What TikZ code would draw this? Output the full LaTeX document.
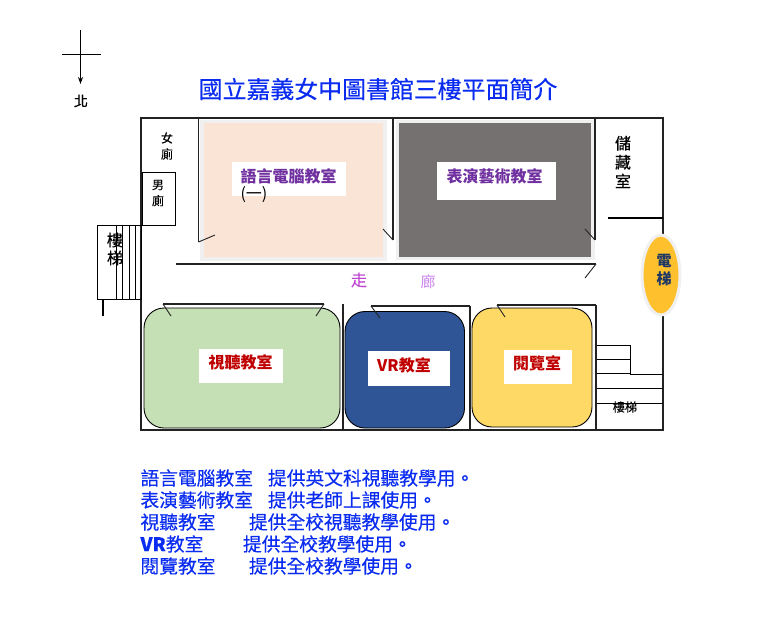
\documentclass[tikz,border=0pt]{standalone}
\usepackage{fontspec}
\usetikzlibrary{arrows.meta}
\setmainfont{Noto Sans CJK TC}
\newfontfamily\heavycjk[FakeBold=0.35]{Noto Sans CJK TC}
\definecolor{titleblue}{HTML}{0A2CF0}
\definecolor{wallink}{HTML}{222222}
\definecolor{pale}{HTML}{F0F0F0}
\definecolor{roompurple}{HTML}{7030A0}
\definecolor{roomred}{HTML}{C00000}
\tikzset{
  wall/.style={draw=wallink,line width=1.9pt},
  thin wall/.style={draw=black,line width=1.2pt},
  door/.style={draw=wallink,line width=.9pt},
  room/.style={draw=black,line width=.9pt,rounded corners=20pt},
  plain/.style={inner sep=0pt,outer sep=0pt,text=black},
  roomlabel/.style={plain,font=\fontsize{16}{16}\selectfont\bfseries},
  note/.style={plain,anchor=west,text=titleblue,font=\heavycjk\fontsize{18.75}{18.75}\selectfont},
}
\begin{document}
\begin{tikzpicture}[x=1pt,y=-1pt]
\useasboundingbox (0,0) rectangle (757,633);
% north mark
\draw[black,line width=.8pt] (62,54) -- (101,54);
\draw[black,line width=.8pt,-{Stealth[length=7pt,width=5pt]}] (80.5,30) -- (80.5,84);
\node[plain,font=\heavycjk\fontsize{14}{14}\selectfont] (north) at (81,101) {北};
% title
\node[plain,text=titleblue,font=\heavycjk\fontsize{23.9}{24}\selectfont] (title) at (378,89) {國立嘉義女中圖書館三樓平面簡介};
% upper rooms
\fill[pale] (200,120) rectangle (387,261);
\fill[fill={rgb,255:red,250;green,228;blue,214}] (204,123) rectangle (383,257);
\fill[pale] (396,120) rectangle (595,260);
\fill[fill={rgb,255:red,118;green,113;blue,113}] (399,123) rectangle (591,257);
% lower rooms
\filldraw[room,fill={rgb,255:red,197;green,224;blue,180}] (144,308) rectangle (340,428);
\filldraw[room,fill={rgb,255:red,47;green,85;blue,151}] (345,311.5) rectangle (464.5,428);
\filldraw[room,fill={rgb,255:red,255;green,217;blue,102}] (472,308) rectangle (592,427);
% outer walls
\draw[wall] (663,237) -- (663,118) -- (141,118) -- (141,430) -- (663,430) -- (663,315);
% inner walls, upper side
\draw[wall] (198.5,118) -- (198.5,242);
\draw[wall] (393,118) -- (393,240);
\draw[wall] (595,118) -- (595,240);
\draw[door] (198.5,242) -- (215,235);
\draw[door] (393,240) -- (383,229);
\draw[door] (595,240) -- (585,229);
\draw[wall] (176,264) -- (596,264);
\draw[door] (596,264) -- (585,278);
\draw[thin wall] (608,218) -- (663,218);
% toilet box
\draw[black,line width=.9pt] (142,172) rectangle (175,225);
% west stairs
\draw[black,line width=.9pt] (97,225) rectangle (141,299);
\foreach \sx in {116,122.5,129,135} \draw[black,line width=.8pt] (\sx,225) -- (\sx,299);
\draw[black,line width=1.7pt] (103,299) -- (103,316);
% lower walls
\draw[wall] (343,304) -- (343,430);
\draw[wall] (470,306) -- (470,430);
\draw[wall] (596,305) -- (596,430);
\draw[wall] (163,304) -- (324,304);
\draw[door] (163,304) -- (171,316);
\draw[door] (324,304) -- (316,316);
\draw[wall] (371,306) -- (470,306);
\draw[door] (371,306) -- (380,318);
\draw[wall] (497,305) -- (596,305);
\draw[door] (497,305) -- (505,317);
% east stairs
\foreach \sy in {345,359,373} \draw[black,line width=.8pt] (597,\sy) -- (630,\sy);
\draw[black,line width=.8pt] (630,345) -- (630,374) -- (663,374);
\foreach \sy in {388,403} \draw[black,line width=.8pt] (597,\sy) -- (663,\sy);
% elevator
\draw[pale,line width=3pt,fill={rgb,255:red,255;green,192;blue,46}] (661,275) ellipse [x radius=19,y radius=40];
\node[plain,text={rgb,255:red,31;green,56;blue,100},font=\fontsize{15}{18}\selectfont\bfseries,align=center] (lift) at (664,270) {電\\梯};
% room labels
\node[fill=white,minimum width=114pt,minimum height=34pt,inner sep=0pt] (box1) at (289,179) {};
\node[roomlabel,text=roompurple] (lab1) at (288.5,176) {語言電腦教室};
\node[plain,anchor=west,font=\fontsize{16}{16}\selectfont] (lab1b) at (240.5,195) {(一)};
\node[fill=white,minimum width=119pt,minimum height=38pt,inner sep=0pt] (box2) at (496.5,181) {};
\node[roomlabel,text=roompurple] (lab2) at (494.5,176) {表演藝術教室};
\node[fill=white,minimum width=84pt,minimum height=34pt,inner sep=0pt] (box3) at (241,366) {};
\node[roomlabel,text=roomred] (lab3) at (240.5,362.5) {視聽教室};
\node[fill=white,minimum width=82pt,minimum height=35pt,inner sep=0pt] (box4) at (409,368.5) {};
\node[roomlabel,text=roomred] (lab4) at (404,365) {VR教室};
\node[fill=white,minimum width=68pt,minimum height=34pt,inner sep=0pt] (box5) at (538,367) {};
\node[roomlabel,text=roomred] (lab5) at (537,363) {閱覽室};
% small labels
\node[plain,font=\heavycjk\fontsize{12}{16}\selectfont,align=center] (wc1) at (167,146) {女\\廁};
\node[plain,font=\heavycjk\fontsize{12}{16}\selectfont,align=center] (wc2) at (158,193) {男\\廁};
\node[plain,font=\heavycjk\fontsize{16}{19}\selectfont,align=center] (store) at (623,162) {儲\\藏\\室};
\node[plain,font=\heavycjk\fontsize{16}{18}\selectfont,align=center] (st1) at (115,249) {樓\\梯};
\node[plain,font=\heavycjk\fontsize{12}{12}\selectfont] (st2) at (625,407) {樓梯};
\node[plain,text={rgb,255:red,190;green,70;blue,210},font=\heavycjk\fontsize{16}{16}\selectfont] (walk1) at (359,280) {走};
\node[plain,text={rgb,255:red,200;green,130;blue,235},font=\fontsize{15}{15}\selectfont] (walk2) at (428,282) {廊};
% notes
\node[note] (n1a) at (140.5,478) {語言電腦教室};
\node[note] (n1b) at (268,478) {提供英文科視聽教學用。};
\node[note] (n2a) at (140.5,500) {表演藝術教室};
\node[note] (n2b) at (268,500) {提供老師上課使用。};
\node[note] (n3a) at (140.5,522) {視聽教室};
\node[note] (n3b) at (249,522) {提供全校視聽教學使用。};
\node[note] (n4a) at (140.5,544) {{\bfseries VR}教室};
\node[note] (n4b) at (243,544) {提供全校教學使用。};
\node[note] (n5a) at (140.5,566) {閱覽教室};
\node[note] (n5b) at (249,566) {提供全校教學使用。};
\end{tikzpicture}
\end{document}
